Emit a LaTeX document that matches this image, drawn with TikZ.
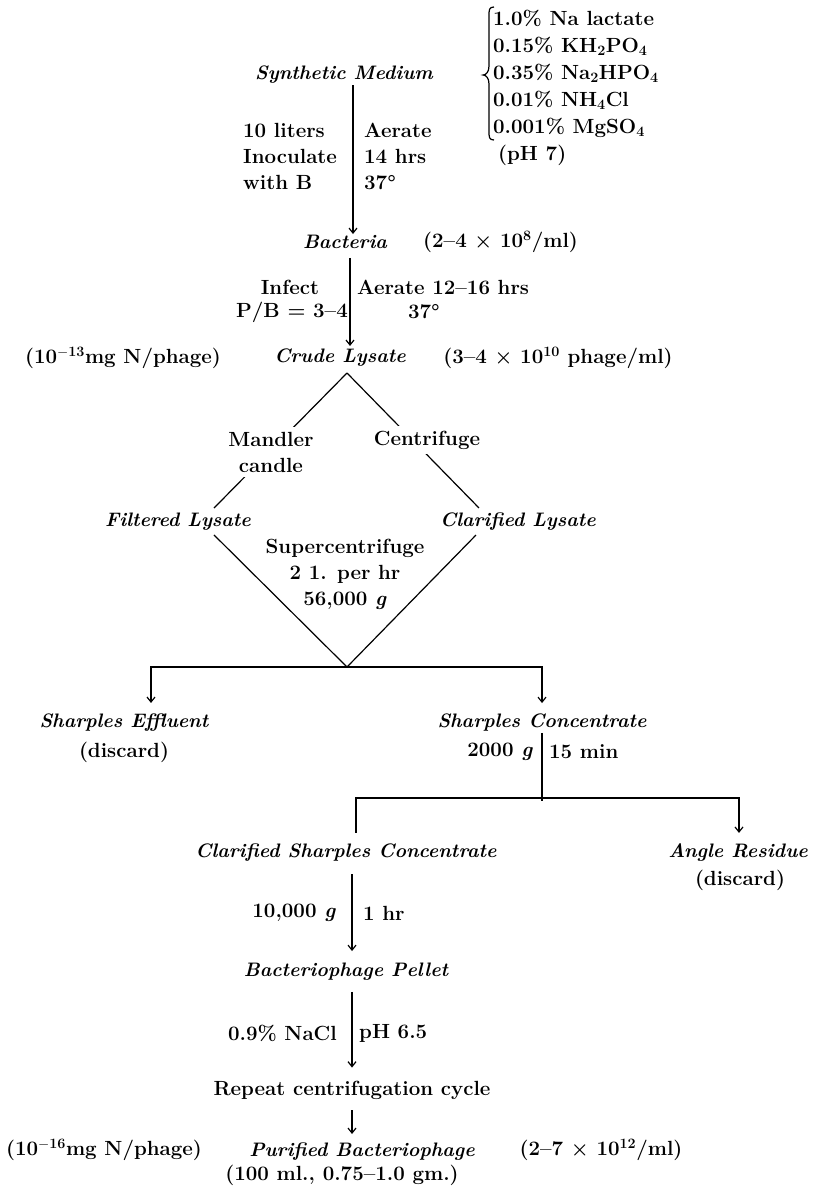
\documentclass[tikz,border=0pt]{standalone}
\usepackage{fontspec}
\usetikzlibrary{arrows.meta}
\begin{document}
\begin{tikzpicture}[x=1pt,y=-1pt,
  rmt/.style={font=\fontsize{20.5}{26}\selectfont\bfseries, inner sep=1pt},
  itt/.style={font=\fontsize{19.5}{26}\selectfont\bfseries\itshape, inner sep=1pt},
  lbl/.style={rmt, fill=white, inner sep=5pt},
  ln/.style={line width=1.2pt},
  arr/.style={ln, -{Straight Barb[length=5pt,width=8pt,line width=1.2pt]}}]
\useasboundingbox (0,0) rectangle (814,1191);
\fill[white] (0,0) rectangle (814,1191);

% --- Synthetic medium
\node[itt] (sm) at (344,75) {Synthetic Medium};
\node[rmt, anchor=west, align=left, font=\fontsize{20.5}{27}\selectfont\bfseries] (comp) at (492,74)
  {1.0\% Na lactate\\0.15\% KH\textsubscript{2}PO\textsubscript{4}\\0.35\% Na\textsubscript{2}HPO\textsubscript{4}\\0.01\% NH\textsubscript{4}Cl\\0.001\% MgSO\textsubscript{4}};
\draw[ln] (494,7) .. controls (489,7) and (489,10) .. (489,16) -- (489,66)
  .. controls (489,72) and (486,75) .. (483,75)
  .. controls (486,75) and (489,78) .. (489,84) -- (489,131)
  .. controls (489,137) and (489,140) .. (494,140);
\node[rmt, anchor=west] (ph) at (497,155) {(pH 7)};
\node[rmt, anchor=west, align=left] (inoc) at (242,156) {10 liters\\Inoculate\\with B};
\node[rmt, anchor=west, align=left] (aer) at (363,156) {Aerate\\14 hrs\\37°};

% --- Bacteria
\node[itt] (bact) at (345,242) {Bacteria};
\node[rmt, anchor=west] (bconc) at (422,242) {(2–4 × 10\textsuperscript{8}/ml)};
\coordinate (ax1) at (353,0);
\draw[arr] (sm.south -| ax1) -- (bact.north -| ax1);

\node[rmt] (inf) at (290,287) {Infect};
\node[rmt, anchor=east] (pb) at (349,312) {P/B = 3–4};
\node[rmt, anchor=west] (aer2) at (356,287) {Aerate 12–16 hrs};
\node[rmt] (t2) at (424,312) {37°};

% --- Crude lysate
\node[itt] (crude) at (340,358) {Crude Lysate};
\node[rmt] (cn) at (123,358) {(10\textsuperscript{$-$13}mg N/phage)};
\node[rmt] (cc) at (558,358) {(3–4 × 10\textsuperscript{10} phage/ml)};
\coordinate (ax2) at (350,0);
\draw[arr, shorten <=8pt, shorten >=2pt] (bact.south -| ax2) -- (crude.north -| ax2);

% --- Diamond
\coordinate (dtop) at (347,373);
\coordinate (dbot) at (347,667);
\node[itt] (filt) at (178,522) {Filtered Lysate};
\node[itt] (clar) at (518,522) {Clarified Lysate};
\draw[ln] (dtop) -- ([xshift=36pt,yshift=4pt]filt.north);
\draw[ln] (dtop) -- ([xshift=-39pt,yshift=4pt]clar.north);
\draw[ln] ([xshift=36pt,yshift=-3pt]filt.south) -- (dbot);
\draw[ln] ([xshift=-42pt,yshift=-3pt]clar.south) -- (dbot);
\node[lbl, align=center] (mand) at (271,452) {Mandler\\candle};
\node[lbl] (cent) at (427,440) {Centrifuge};
\node[rmt, align=center] (sup) at (345,574) {Supercentrifuge\\2 1. per hr\\56,000 \textit{g}};

% --- Sharples
\node[itt] (eff) at (124,723) {Sharples Effluent};
\node[rmt] (effd) at (124,752) {(discard)};
\node[itt] (sc) at (542,723) {Sharples Concentrate};
\draw[arr] (dbot) -| ([xshift=27pt,yshift=10pt]eff.north);
\draw[arr] (dbot) -| ([yshift=10pt]sc.north);
\node[rmt, anchor=east] (g2) at (534,752) {2000 \textit{g}};
\node[rmt, anchor=west] (m15) at (548,752) {15 min};
\coordinate (j2) at (542,798);
\draw[ln] (sc.south) -- ([yshift=-3pt]j2);

\node[itt] (csc) at (346,853) {Clarified Sharples Concentrate};
\node[itt] (ar) at (738,853) {Angle Residue};
\node[rmt] (ard) at (740,880) {(discard)};
\draw[ln] (j2) -| ([xshift=10pt,yshift=10pt]csc.north);
\draw[arr] (j2) -| ([xshift=1pt,yshift=10pt]ar.north);

% --- Pellet
\coordinate (ax3) at (352,0);
\node[itt] (pel) at (346,972) {Bacteriophage Pellet};
\draw[arr, shorten <=11pt, shorten >=11pt] (csc.south -| ax3) -- (pel.north -| ax3);
\node[rmt, anchor=east] (g3) at (337,913) {10,000 \textit{g}};
\node[rmt, anchor=west] (h3) at (362,913) {1 hr};

\node[rmt] (rep) at (352,1090) {Repeat centrifugation cycle};
\draw[arr, shorten <=10pt, shorten >=12pt] (pel.south -| ax3) -- (rep.north -| ax3);
\node[rmt, anchor=east] (nacl) at (338,1033) {0.9\% NaCl};
\node[rmt, anchor=west] (ph65) at (358,1033) {pH 6.5};

% --- Purified
\node[itt] (pur) at (362,1152) {Purified Bacteriophage};
\draw[arr, shorten <=10pt, shorten >=8pt] (rep.south -| ax3) -- (pur.north -| ax3);
\node[rmt] (pn) at (104,1150) {(10\textsuperscript{$-$16}mg N/phage)};
\node[rmt] (pc) at (601,1150) {(2–7 × 10\textsuperscript{12}/ml)};
\node[rmt] (pv) at (342,1175) {(100 ml., 0.75–1.0 gm.)};
\end{tikzpicture}
\end{document}
